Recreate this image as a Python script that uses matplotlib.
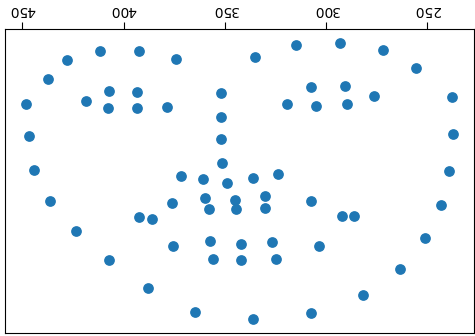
import matplotlib
matplotlib.use("Agg")
import matplotlib.pyplot as plt
import numpy as np

# landmark points (x in plot units, y arbitrary units)
jaw_x = [448.0, 446.5, 444.1, 436.3, 423.7, 407.3, 387.9, 364.6, 336.0,
         307.5, 281.9, 263.6, 251.3, 243.3, 239.1, 237.5, 237.7]
jaw_y = [224.3, 247.1, 271.4, 293.1, 314.8, 335.7, 355.7, 372.9, 377.9,
         373.8, 360.9, 341.8, 320.0, 295.9, 272.1, 245.2, 219.3]

brow_x = [437.5, 428.0, 411.5, 392.2, 374.2, 335.1, 314.9, 292.9, 271.7, 255.4]
brow_y = [206.2, 192.4, 186.2, 186.2, 192.1, 190.0, 181.9, 180.2, 185.2, 198.1]

nose_x = [351.9, 351.9, 351.9, 351.3, 371.8, 360.9, 349.1, 336.0, 323.5]
nose_y = [215.9, 233.4, 249.1, 265.9, 275.7, 277.5, 280.2, 276.6, 273.9]

eye_x = [418.3, 407.1, 393.3, 378.4, 393.3, 407.8,
         319.2, 307.5, 290.9, 276.5, 289.8, 305.2]
eye_y = [221.9, 215.0, 215.7, 226.2, 227.1, 227.1,
         223.8, 212.1, 210.9, 218.1, 223.8, 225.2]

mouth_x = [392.2, 385.8, 376.1, 359.6, 345.0, 330.4, 307.5, 292.2, 286.2, 303.4,
           326.9, 342.0, 357.2, 375.4, 358.0, 344.6, 330.4, 356.0, 342.0, 324.6]
mouth_y = [305.0, 306.2, 295.0, 290.9, 292.9, 289.8, 293.1, 304.1, 304.1, 325.9,
           322.9, 323.8, 321.9, 325.9, 299.1, 299.3, 298.1, 334.8, 335.7, 335.0]

x = np.concatenate([jaw_x, brow_x, nose_x, eye_x, mouth_x])
y = np.concatenate([jaw_y, brow_y, nose_y, eye_y, mouth_y])

fig = plt.figure(figsize=(4.75, 3.36), dpi=100)
ax = fig.add_axes([5/475, 1 - 333/336, 469/475, 304/336])

ax.scatter(x, y, s=45, color='#1f77b4')

# picture is turned upside down: axis on top, reversed, labels rotated
ax.invert_xaxis()
ax.invert_yaxis()
ax.xaxis.tick_top()
ax.set_xticks([250, 300, 350, 400, 450])
for lbl in ax.get_xticklabels():
    lbl.set_rotation(180)
ax.tick_params(axis='x', labelsize=10, length=5)
ax.tick_params(axis='y', left=False, right=False, labelleft=False)

plt.savefig("out.png", dpi=100)
